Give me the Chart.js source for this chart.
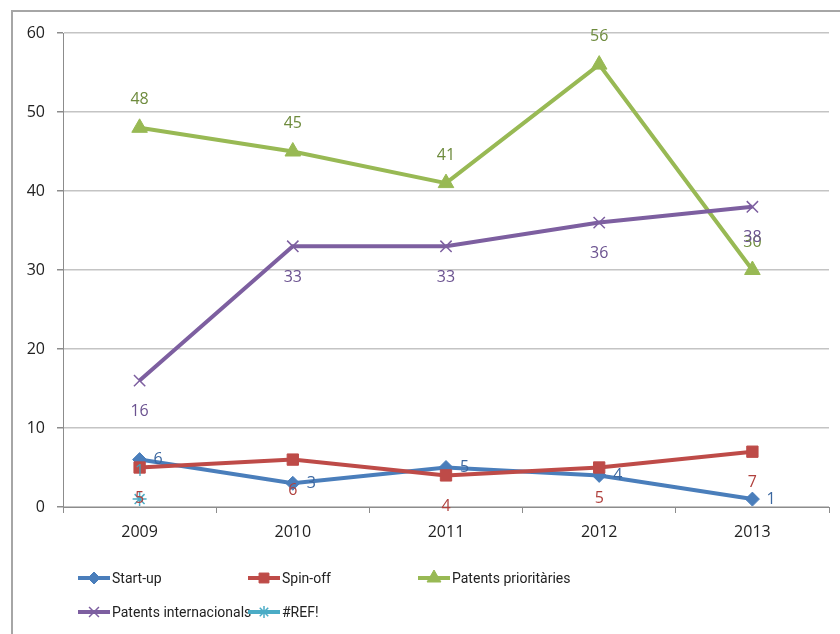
<!DOCTYPE html>
<html>
<head>
<meta charset="utf-8">
<script src="https://cdn.jsdelivr.net/npm/chart.js@4.4.1/dist/chart.umd.min.js"></script>
<style>
  html, body { margin: 0; padding: 0; background: #fff; }
  #marco { position: absolute; left: 0; top: 0; width: 840px; height: 634px; overflow: hidden; }
  #borde { position: absolute; left: 11px; top: 10px; width: 900px; height: 700px; border: 2px solid #a6a6a6; box-sizing: border-box; }
  #grafica { position: absolute; left: 0; top: 0; }
</style>
</head>
<body>
<div id="marco">
  <div id="borde"></div>
  <canvas id="grafica" width="840" height="634"></canvas>
</div>
<script>
// datos
const anys = ['2009', '2010', '2011', '2012', '2013'];
const startUp = [6, 3, 5, 4, 1];
const spinOff = [5, 6, 4, 5, 7];
const patentsPrioritaries = [48, 45, 41, 56, 30];
const patentsInternacionals = [16, 33, 33, 36, 38];
const refError = [1, null, null, null, null];
const ticksY = [0, 10, 20, 30, 40, 50, 60];

const fuente = "'Open Sans', 'Noto Sans', sans-serif";
const fuenteLeyenda = "Roboto, 'Liberation Sans', sans-serif";

// series: color de linea, color de etiqueta, marcador, donde va la etiqueta
const series = [
  {nombre: 'Start-up', datos: startUp, color: '#4A7EBB', etiqueta: '#3B67A0', punto: 'rectRot', radio: 7, lado: 'derecha'},
  {nombre: 'Spin-off', datos: spinOff, color: '#BE4B48', etiqueta: '#B0403D', punto: 'rect', radio: 8, lado: 'abajo'},
  {nombre: 'Patents prioritàries', datos: patentsPrioritaries, color: '#98B954', etiqueta: '#6E8B3D', punto: 'triangle', radio: 9, lado: 'arriba'},
  {nombre: 'Patents internacionals', datos: patentsInternacionals, color: '#7D5FA0', etiqueta: '#6B5290', punto: 'crossRot', radio: 8, lado: 'abajo'},
  {nombre: '#REF!', datos: refError, color: '#4BACC6', etiqueta: '#3FA3BE', punto: 'star', radio: 7, lado: 'arriba'}
];

// etiquetas de valor encima de cada punto (no hay plugin datalabels)
const etiquetasValor = {
  id: 'etiquetasValor',
  afterDatasetsDraw(chart) {
    const ctx = chart.ctx;
    ctx.save();
    ctx.font = '16px ' + fuente;
    ctx.textBaseline = 'middle';
    chart.data.datasets.forEach((ds, i) => {
      const meta = chart.getDatasetMeta(i);
      const s = series[i];
      ctx.fillStyle = s.etiqueta;
      meta.data.forEach((p, j) => {
        const v = ds.data[j];
        if (v === null || v === undefined) return;
        let x = p.x, y = p.y;
        if (s.lado === 'derecha') { ctx.textAlign = 'left'; x += 14; }
        else if (s.lado === 'abajo') { ctx.textAlign = 'center'; y += 31; }
        else { ctx.textAlign = 'center'; y -= 28; }
        ctx.fillText(String(v), x, y);
      });
    });
    ctx.restore();
  }
};

// leyenda a mano, en columnas como la de excel
const leyenda = {
  id: 'leyenda',
  afterDraw(chart) {
    const ctx = chart.ctx;
    const columnas = [78, 248, 418];
    const filas = [578, 612];
    ctx.save();
    ctx.font = '14px ' + fuenteLeyenda;
    ctx.textBaseline = 'middle';
    ctx.textAlign = 'left';
    series.forEach((s, i) => {
      const x = columnas[i % 3];
      const y = filas[Math.floor(i / 3)];
      ctx.strokeStyle = s.color;
      ctx.lineWidth = 4;
      ctx.beginPath();
      ctx.moveTo(x, y);
      ctx.lineTo(x + 32, y);
      ctx.stroke();
      ctx.fillStyle = s.color;
      ctx.lineWidth = s.punto === 'crossRot' || s.punto === 'star' ? 1.5 : 1;
      Chart.helpers.drawPoint(ctx, {pointStyle: s.punto, radius: s.radio - 1, borderWidth: ctx.lineWidth, rotation: 0}, x + 16, y);
      ctx.fillStyle = '#222';
      ctx.fillText(s.nombre, x + 34, y + 1);
    });
    ctx.restore();
  }
};

const grafica = document.getElementById('grafica');

new Chart(grafica, {
  type: 'line',
  data: {
    labels: anys,
    datasets: series.map((s, i) => ({
      label: s.nombre,
      data: s.datos,
      borderColor: s.color,
      backgroundColor: s.color,
      borderWidth: 4,
      tension: 0,
      pointStyle: s.punto,
      pointRadius: s.radio,
      pointBorderColor: s.color,
      pointBackgroundColor: s.color,
      pointBorderWidth: s.punto === 'crossRot' || s.punto === 'star' ? 1.5 : 1,
      order: series.length - i
    }))
  },
  options: {
    responsive: false,
    animation: false,
    layout: { padding: { left: 0, top: 33, right: 11, bottom: 0 } },
    plugins: { legend: { display: false }, tooltip: { enabled: false } },
    scales: {
      x: {
        offset: true,
        grid: { offset: true, drawOnChartArea: false, drawTicks: true, tickLength: 6, color: '#8c8c8c', lineWidth: 1 },
        border: { color: '#8c8c8c', width: 1 },
        ticks: { color: '#222', font: { family: fuente, size: 16 }, padding: 10 },
        afterFit(scale) { scale.height = 127; }
      },
      y: {
        min: 0,
        max: 60,
        afterBuildTicks(scale) { scale.ticks = ticksY.map(v => ({value: v})); },
        grid: { color: '#c4c4c4', lineWidth: 1.5, tickLength: 6, tickColor: '#8c8c8c' },
        border: { color: '#8c8c8c', width: 1 },
        ticks: { color: '#222', font: { family: fuente, size: 16 }, padding: 12 },
        afterFit(scale) { scale.width = 63; }
      }
    }
  },
  plugins: [etiquetasValor, leyenda]
});
</script>
</body>
</html>
